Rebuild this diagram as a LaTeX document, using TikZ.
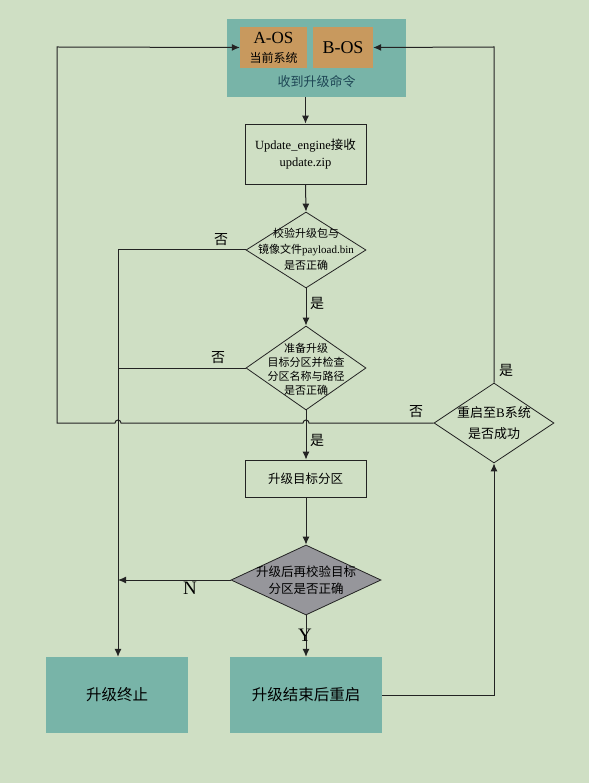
\documentclass[tikz,border=0pt]{standalone}
\usepackage{fontspec}
\setmainfont{Liberation Serif}
\newfontfamily\cjk{Noto Sans CJK SC}
\usetikzlibrary{shapes.geometric,arrows.meta}
\definecolor{bgc}{RGB}{207,223,196}
\definecolor{tealc}{RGB}{120,180,168}
\definecolor{orangec}{RGB}{200,153,94}
\definecolor{grayc}{RGB}{150,150,155}
\definecolor{linec}{RGB}{35,35,35}
\definecolor{txtblue}{RGB}{30,70,85}
\tikzset{
  flow/.style={draw=linec, line width=1pt, line join=miter},
  arr/.style={flow, -{Latex[length=8pt,width=7pt]}},
  tbox/.style={draw=linec, line width=0.8pt, inner sep=0pt, align=center},
  tealbox/.style={fill=tealc, draw=none, inner sep=0pt, align=center},
  orbox/.style={fill=orangec, draw=none, inner sep=0pt, align=center},
  dia/.style={diamond, draw=linec, line width=0.8pt, inner sep=0pt},
  lbl/.style={inner sep=0pt, font=\cjk\fontsize{14}{16}\selectfont},
}
\begin{document}
\begin{tikzpicture}[x=1pt,y=1pt]
\fill[bgc] (0,0) rectangle (589,-783);
\useasboundingbox (0,0) rectangle (589,-783);

% top box
\node[tealbox, minimum width=179, minimum height=78] (top) at (316.5,-58) {};
\node[orbox, minimum width=67, minimum height=41] (aos) at (273.5,-47.5) {};
\node[inner sep=0pt, font=\fontsize{17}{18}\selectfont] (aost) at (273.5,-38) {A-OS};
\node[inner sep=0pt, font=\cjk\fontsize{12}{13}\selectfont] (aosz) at (273.5,-58) {当前系统};
\node[orbox, minimum width=60, minimum height=41, font=\fontsize{18}{19}\selectfont] (bos) at (343,-47.5) {B-OS};
\node[inner sep=0pt, font=\cjk\fontsize{13}{14}\selectfont, text=txtblue] (recv) at (316.5,-82) {收到升级命令};

% update box
\node[tbox, minimum width=121, minimum height=60, font=\fontsize{12.5}{17}\selectfont] (upd) at (305.5,-154)
  {Update\_engine{\cjk 接收}\\update.zip};

% diamond 1
\node[dia, minimum width=120, minimum height=76] (d1) at (306,-250) {};
\node[align=center, inner sep=0pt, font=\fontsize{11}{16}\selectfont] (d1t) at (306,-249)
  {{\cjk 校验升级包与}\\{\cjk 镜像文件}payload.bin\\{\cjk 是否正确}};

% diamond 2
\node[dia, minimum width=120, minimum height=84] (d2) at (306,-368) {};
\node[align=center, inner sep=0pt, font=\cjk\fontsize{11}{14}\selectfont] (d2t) at (306,-369)
  {准备升级\\目标分区并检查\\分区名称与路径\\是否正确};

% target box
\node[tbox, minimum width=121, minimum height=37, font=\cjk\fontsize{12.5}{14}\selectfont] (tgt) at (305.5,-478.5) {升级目标分区};

% diamond 4
\node[dia, fill=grayc, minimum width=150, minimum height=70] (d4) at (306,-580) {};
\node[align=center, inner sep=0pt, font=\cjk\fontsize{12.5}{17}\selectfont] (d4t) at (306,-580)
  {升级后再校验目标\\分区是否正确};

% diamond 3
\node[dia, minimum width=120, minimum height=80] (d3) at (494,-423) {};
\node[align=center, inner sep=0pt, font=\fontsize{13}{21}\selectfont] (d3t) at (494,-423)
  {{\cjk 重启至}B{\cjk 系统}\\{\cjk 是否成功}};

% bottom boxes
\node[tealbox, minimum width=142, minimum height=76, font=\cjk\fontsize{15.5}{16}\selectfont] (stop) at (117,-695) {升级终止};
\node[tealbox, minimum width=152, minimum height=76, font=\cjk\fontsize{15.5}{16}\selectfont] (reboot) at (306,-695) {升级结束后重启};

% coordinates
\coordinate (lx) at (118,-250);
\coordinate (loopL) at (57,-423);
\coordinate (loopT) at (57,-47);
\coordinate (rT) at (494,-47);
\coordinate (rB) at (494,-695);
\coordinate (d2L) at (118,-368);
\coordinate (d4L) at (118,-580);

% main flow
\draw[arr] (top.south -| upd.north) -- (upd.north);
\draw[arr] (upd.south) -- (d1.north);
\draw[arr] (d1.south) -- (d2.north);
\draw[arr] (d2.south) -- (tgt.north -| d2.south);
\draw[arr] (tgt.south -| d4.north) -- (d4.north);
\draw[arr] (d4.south) -- (reboot.north);

% no branches
\draw[flow] (d1.west) -- (lx);
\draw[arr] (lx) -- (stop.north -| lx);
\draw[flow] (d2.west) -- (d2L);
\draw[arr] (d4.west) -- (d4L);

% reboot to d3
\draw[arr] (reboot.east) -- (rB) -- (d3.south);
% d3 yes to B-OS
\draw[arr] (d3.north) -- (rT) -- (bos.east);
% d3 no loop to A-OS with hops
\draw[arr] (d3.west) -- (309,-423) arc[start angle=0,end angle=180,radius=3]
  -- (121,-423) arc[start angle=0,end angle=180,radius=3]
  -- (loopL) -- (loopT) -- (aos.west);

% labels
\node[lbl] (n1) at (221,-240) {否};
\node[lbl] (y1) at (317,-303) {是};
\node[lbl] (n2) at (218,-358) {否};
\node[lbl] (y2) at (317,-440) {是};
\node[lbl] (n3) at (416,-412) {否};
\node[lbl] (y3) at (506,-370) {是};
\node[inner sep=0pt, font=\fontsize{19}{20}\selectfont] (nl) at (190,-588) {N};
\node[inner sep=0pt, font=\fontsize{19}{20}\selectfont] (yl) at (305,-635) {Y};
\end{tikzpicture}
\end{document}
